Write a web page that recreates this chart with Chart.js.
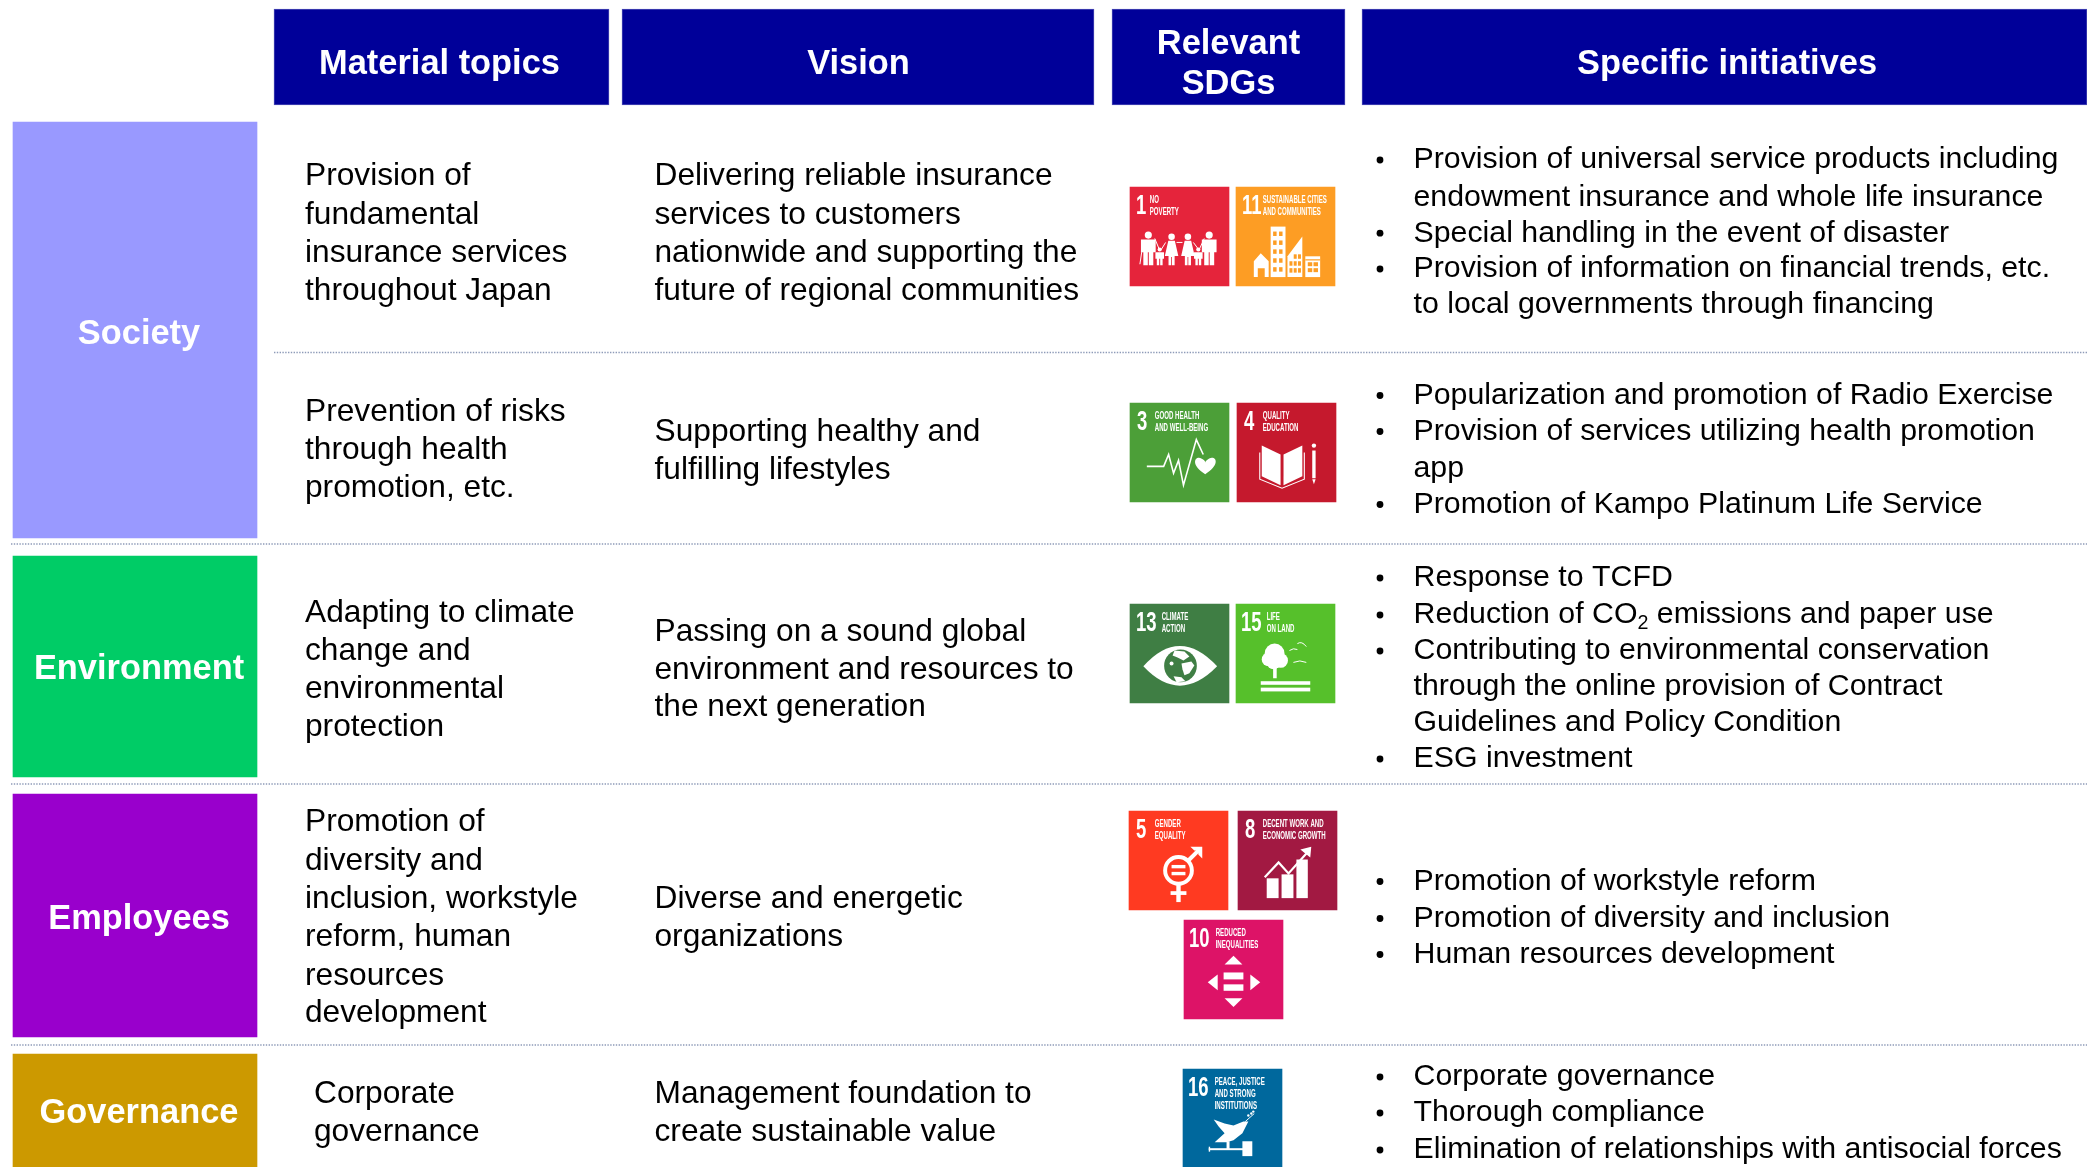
<!DOCTYPE html>
<html><head><meta charset="utf-8">
<style>html,body{margin:0;padding:0;background:#fff;overflow:hidden}canvas{display:block}</style>
<script src="https://cdn.jsdelivr.net/npm/chart.js@4/dist/chart.umd.min.js"></script>
</head><body><canvas id="c" width="2087" height="1167"></canvas>
<script>
// ---- content ----
const headers = [["Material topics"],["Vision"],["Relevant","SDGs"],["Specific initiatives"]];
const pillars = ["Society","Environment","Employees","Governance"];
const topics = [
 ["Provision of","fundamental","insurance services","throughout Japan"],
 ["Prevention of risks","through health","promotion, etc."],
 ["Adapting to climate","change and","environmental","protection"],
 ["Promotion of","diversity and","inclusion, workstyle","reform, human","resources","development"],
 ["Corporate","governance"]];
const visions = [
 ["Delivering reliable insurance","services to customers","nationwide and supporting the","future of regional communities"],
 ["Supporting healthy and","fulfilling lifestyles"],
 ["Passing on a sound global","environment and resources to","the next generation"],
 ["Diverse and energetic","organizations"],
 ["Management foundation to","create sustainable value"]];
const initiatives = [
 [["Provision of universal service products including","endowment insurance and whole life insurance"],["Special handling in the event of disaster"],["Provision of information on financial trends, etc.","to local governments through financing"]],
 [["Popularization and promotion of Radio Exercise"],["Provision of services utilizing health promotion","app"],["Promotion of Kampo Platinum Life Service"]],
 [["Response to TCFD"],["Reduction of CO₂ emissions and paper use"],["Contributing to environmental conservation","through the online provision of Contract","Guidelines and Policy Condition"],["ESG investment"]],
 [["Promotion of workstyle reform"],["Promotion of diversity and inclusion"],["Human resources development"]],
 [["Corporate governance"],["Thorough compliance"],["Elimination of relationships with antisocial forces"]]];
const sdgNumbers = [1,11,3,4,13,15,5,8,10,16];
const sdgLabels = [["NO","POVERTY"],["SUSTAINABLE CITIES","AND COMMUNITIES"],["GOOD HEALTH","AND WELL-BEING"],["QUALITY","EDUCATION"],["CLIMATE","ACTION"],["LIFE","ON LAND"],["GENDER","EQUALITY"],["DECENT WORK AND","ECONOMIC GROWTH"],["REDUCED","INEQUALITIES"],["PEACE, JUSTICE","AND STRONG","INSTITUTIONS"]];

// ---- layout (page units) ----
const headerBox = [[274,609],[622,1094],[1112,1345],[1362,2087]];
const headerY = [9,105];
const headerCx = [439.5,858.5,1228.5,1727];
const headerLineY = [[64.5],[64.5],[44.5,84.5],[64.5]];
const pillarBox = [[122,538],[556,777],[794,1037],[1054,1167]];
const pillarX = [13,257];
const pillarText = [[139,335],[139,670],[139,919.5],[139,1114]];
const pillarColors = ["#9999FF","#00CC66","#9900CC","#CC9900"];
const rules = [[274,352.5],[11,544],[11,784],[11,1045]];
const topicX = [305,305,305,305,314];
const topicY = [[176.5,214.8,253.2,291.5],[412,450,488],[613,651,689,727],[822.6,861,899,937.5,976,1013.5],[1094,1132]];
const visionX = 654.5;
const visionY = [[176.5,214.8,253.2,291.5],[432,470],[632,670,707.5],[899,937.5],[1094,1132]];
const bulletX = 1380, initX = 1413.5;
const initY = [[160,197.2,233.2,269,305],[395.5,431.5,468.5,504.5],[578,615,651,687,723,759],[881.5,918.5,954.5],[1077,1113,1150]];
const tileBox = [[1130,187],[1236,187],[1130,403],[1237,403],[1130,604],[1236,604],[1129,811],[1238,811],[1184,920],[1183,1069]];
const tileSize = 99;
const tileColors = ["#E5243B","#FD9D24","#4C9F38","#C5192D","#3F7E44","#56C02B","#FF3A21","#A21942","#DD1367","#00689D"];
const tileNumX = [6,6,7,7,6,5,7,7,5,5];
const tileLabelX = [20,27,25,26,32,31,26,25,32,32];

const SANS = '"Liberation Sans", Arial, sans-serif';
const BODY = 31.7, INIT = 30.3, HEAD = 34.4;

// Icons in tile-local 0..100 units
function poly(g,pts,fill=true){g.beginPath();pts.forEach((p,i)=>i?g.lineTo(p[0],p[1]):g.moveTo(p[0],p[1]));if(fill){g.closePath();g.fill();}else g.stroke();}
function person(g,x,top,h,w,dress){
  const r=w*0.3;g.beginPath();g.arc(x,top+r,r,0,7);g.fill();
  const y=top+2*r+0.8,b=top+h;
  if(dress){poly(g,[[x-w*.3,y],[x+w*.3,y],[x+w*.62,y+(b-y)*.62],[x+w*.28,y+(b-y)*.62],[x+w*.28,b],[x+.4,b],[x+.4,y+(b-y)*.66],[x-.4,y+(b-y)*.66],[x-.4,b],[x-w*.28,b],[x-w*.28,y+(b-y)*.62],[x-w*.62,y+(b-y)*.62]]);}
  else{poly(g,[[x-w*.62,y],[x+w*.62,y],[x+w*.62,y+(b-y)*.5],[x+w*.42,y+(b-y)*.5],[x+w*.42,b],[x+.5,b],[x+.5,y+(b-y)*.5],[x-.5,y+(b-y)*.5],[x-.5,b],[x-w*.42,b],[x-w*.42,y+(b-y)*.5],[x-w*.62,y+(b-y)*.5]]);}
}
const icons = {
 1(g){person(g,18.5,45,34,12);person(g,42,47,32,11,true);person(g,58.5,47,32,11,true);person(g,80,45,34,12);person(g,30,61,18,7);person(g,69,61,18,7);
   g.lineWidth=1;g.beginPath();g.moveTo(13,58);g.lineTo(10,78);g.moveTo(25,52);g.lineTo(30,64);g.moveTo(47,56);g.lineTo(53,56);g.moveTo(64,56);g.lineTo(70,64);g.moveTo(75,52);g.lineTo(70,63);g.moveTo(36,56);g.lineTo(31,64);g.stroke();},
 11(g,c){poly(g,[[25,67],[33,75],[33,91],[29,91],[29,82],[22,82],[22,91],[18,91],[18,75]]);g.fillRect(35,40,15,51);poly(g,[[52,70],[67,50],[67,91],[52,91]]);g.fillRect(70,70,15,21);
   g.fillStyle=c;for(let r=0;r<5;r++)for(let k=0;k<2;k++)g.fillRect(37.5+k*6,45+r*9,3.5,4.5);
   for(let r=0;r<3;r++)for(let k=0;k<3;k++)if(!(r===0&&k<1))g.fillRect(54+k*4.3,68+r*7,3,4.5);
   g.fillRect(70,73,15,1.2);for(let r=0;r<2;r++)for(let k=0;k<2;k++)g.fillRect(72.5+k*5.8,76+r*6,4.5,4);},
 3(g){g.lineWidth=1.6;g.lineJoin='miter';poly(g,[[17,64],[34,64],[39,52],[44,71],[49,58],[54,83],[67,37],[74,52]],false);
   g.beginPath();g.moveTo(76,72);g.bezierCurveTo(60,62,66,53,72,56);g.bezierCurveTo(75,57,76,59,76,60);g.bezierCurveTo(76,59,78,57,80,56);g.bezierCurveTo(87,53,92,62,76,72);g.fill();},
 4(g){poly(g,[[25,43],[44,52],[44,83],[25,74]]);poly(g,[[47,52],[66,43],[66,74],[47,83]]);g.lineWidth=1.1;poly(g,[[23,50],[23,77],[45.5,86],[68,77],[68,50]],false);
   g.fillRect(76,48,3.4,28);g.beginPath();g.arc(77.7,43,2.2,0,7);g.fill();poly(g,[[76,77],[79.4,77],[77.7,82]]);},
 13(g,c){g.beginPath();g.moveTo(13.5,63);g.quadraticCurveTo(50,22,88,63);g.quadraticCurveTo(50,102,13.5,63);g.fill();
   g.fillStyle=c;g.beginPath();g.arc(51,62.5,16.5,0,7);g.fill();g.fillStyle='#fff';
   poly(g,[[45,47],[55,48],[60,53],[54,57],[48,54],[43,52]]);poly(g,[[52,60],[62,58],[65,62],[60,70],[55,72],[53,66]]);poly(g,[[44,73],[52,74],[56,78],[47,79]]);g.beginPath();g.arc(42,60,2,0,7);g.fill();},
 15(g){[[39,50,10],[33,56,7],[45,57,7.5],[38,59,7]].forEach(a=>{g.beginPath();g.arc(a[0],a[1],a[2],0,7);g.fill();});g.fillRect(37.5,64,3.6,11);g.fillRect(25,78,50,3.6);g.fillRect(25,84.5,50,3.8);
   g.lineWidth=1;[[54,47,62,46],[62,40,71,43],[58,59,71,59]].forEach(b=>{g.beginPath();g.moveTo(b[0],b[1]);g.quadraticCurveTo((b[0]+b[2])/2,b[1]-3,b[2],b[3]);g.stroke();});},
 5(g,c){g.lineWidth=4;g.beginPath();g.arc(50,60,13.5,0,7);g.stroke();g.fillRect(47.8,74,4.4,18);g.fillRect(42,81,16,3.8);
   g.beginPath();g.moveTo(60,50);g.lineTo(72,38);g.stroke();poly(g,[[62,36],[74,36],[74,48],[70,44],[70,40],[66,40]]);g.fillRect(43,54.5,14,3.4);g.fillRect(43,61.5,14,3.4);},
 8(g){g.fillRect(29,68,12,20);g.fillRect(44,64,12,24);g.fillRect(59,49,11.5,39);g.lineWidth=2.2;g.lineJoin='miter';poly(g,[[27,67],[41,52],[51,63],[70,42]],false);poly(g,[[63,39],[74,36],[73,47]]);},
 10(g){poly(g,[[50,36],[41,45],[59,45]]);poly(g,[[50,88],[41,79],[59,79]]);poly(g,[[24,63],[34,55],[34,71]]);poly(g,[[77,63],[67,55],[67,71]]);g.fillRect(40,53,20,7);g.fillRect(40,65,20,6.5);},
 16(g){poly(g,[[31,51],[42,55],[51,57],[61,53],[66,53],[60,65],[51,72],[44,74],[32,74],[42,65],[36,58]]);g.lineWidth=1;g.beginPath();g.moveTo(63,53);g.lineTo(72,45);g.stroke();
   [[66,47],[69,45],[71,43]].forEach(p=>{g.beginPath();g.arc(p[0],p[1],1.2,0,7);g.fill();});g.fillRect(26,80,36,2);g.fillRect(44,73,3,8);g.fillRect(60,73,10,15);g.fillRect(26,78.5,1.4,5);}
};

function textLine(g,str,x,y,size){
  const i=str.indexOf('₂');
  if(i<0){g.fillText(str,x,y);return;}
  const a=str.slice(0,i),b=str.slice(i+1);
  g.fillText(a,x,y);let cx=x+g.measureText(a).width;
  const f=g.font;g.font=`${size*0.65}px ${SANS}`;g.fillText('2',cx,y+size*.27);cx+=g.measureText('2').width;
  g.font=f;g.fillText(b,cx,y);
}
function squeezed(g,str,x,y,font,sx){g.save();g.translate(x,y);g.scale(sx,1);g.font=font;g.fillText(str,0,0);g.restore();}

const overlay = {
 id:'overlay',
 afterDatasetsDraw(chart){
  const g=chart.ctx,X=v=>chart.scales.x.getPixelForValue(v),Y=v=>chart.scales.y.getPixelForValue(v);
  g.save();g.textBaseline='middle';
  g.fillStyle='#fff';g.textAlign='center';g.font=`bold ${HEAD}px ${SANS}`;
  headers.forEach((h,i)=>h.forEach((t,k)=>g.fillText(t,X(headerCx[i]),Y(headerLineY[i][k]))));
  pillars.forEach((p,i)=>g.fillText(p,X(pillarText[i][0]),Y(pillarText[i][1])));
  g.fillStyle='#000';g.textAlign='left';g.font=`${BODY}px ${SANS}`;
  topics.forEach((t,i)=>t.forEach((l,k)=>g.fillText(l,X(topicX[i]),Y(topicY[i][k]))));
  visions.forEach((t,i)=>t.forEach((l,k)=>g.fillText(l,X(visionX),Y(visionY[i][k]))));
  g.font=`${INIT}px ${SANS}`;
  initiatives.forEach((row,i)=>{let n=0;row.forEach(item=>{item.forEach((l,k)=>{
     if(k===0){g.beginPath();g.arc(X(bulletX),Y(initY[i][n]),3.4,0,7);g.fill();}
     textLine(g,l,X(initX),Y(initY[i][n]),INIT);n++;});});});
  sdgNumbers.forEach((num,i)=>{
    const s=(X(tileBox[i][0]+tileSize)-X(tileBox[i][0]));
    g.save();g.translate(X(tileBox[i][0]),Y(tileBox[i][1]));
    g.fillStyle='#fff';g.strokeStyle='#fff';g.textAlign='left';
    squeezed(g,String(num),s*tileNumX[i]/100,s*.19,`bold 28px ${SANS}`,.66);
    sdgLabels[i].forEach((l,k)=>squeezed(g,l,s*tileLabelX[i]/100,s*(.13+k*.12),`bold 10.5px ${SANS}`,.58));
    g.scale(s/100,s/100);
    icons[num](g,tileColors[i]);
    g.restore();
  });
  g.restore();
 }
};

const bar=(x0,x1,y0,y1,color,border)=>({type:'bar',grouped:false,barThickness:y1-y0,backgroundColor:color,
   borderColor:border||color,borderWidth:border?1:0,borderSkipped:false,data:[{x:[x0,x1],y:(y0+y1)/2}]});
const rule=([x0,y])=>({type:'line',data:[{x:x0,y},{x:2087,y}],borderColor:'#8E9BB8',borderWidth:1.4,borderDash:[1.4,1.4],pointRadius:0,fill:false});

new Chart(document.getElementById('c'),{
 data:{datasets:[
   ...headerBox.map(b=>bar(b[0],b[1],headerY[0],headerY[1],'#000099','#4A4AB5')),
   ...pillarBox.map((b,i)=>bar(pillarX[0],pillarX[1],b[0],b[1],pillarColors[i])),
   ...tileBox.map((t,i)=>bar(t[0],t[0]+tileSize,t[1],t[1]+tileSize,tileColors[i])),
   ...rules.map(rule)
 ]},
 options:{indexAxis:'y',responsive:false,animation:false,devicePixelRatio:1,
  layout:{padding:0},
  plugins:{legend:{display:false},tooltip:{enabled:false},title:{display:false}},
  scales:{x:{type:'linear',min:0,max:2087,display:false,offset:false},y:{type:'linear',min:0,max:1167,reverse:true,display:false,offset:false}}},
 plugins:[overlay]
});
</script></body></html>
